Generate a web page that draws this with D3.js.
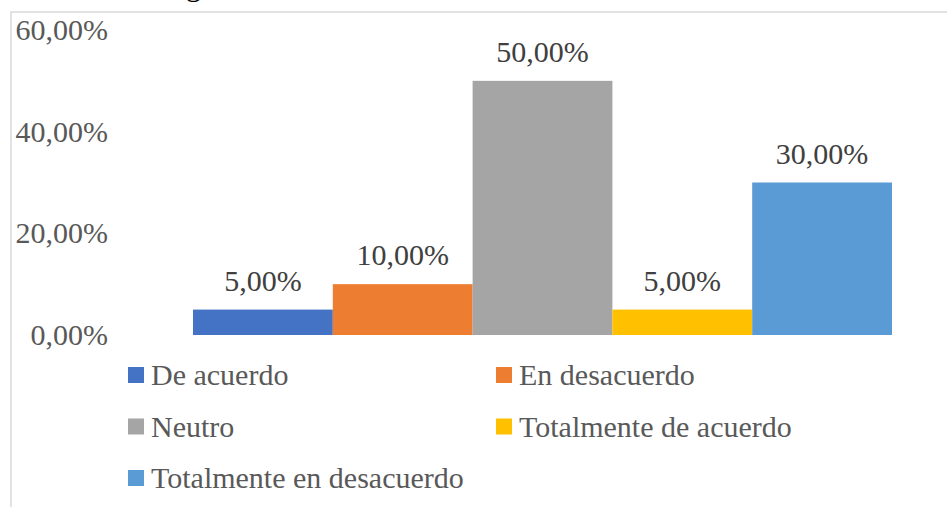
<!DOCTYPE html>
<html>
<head>
<meta charset="utf-8">
<script src="https://cdn.jsdelivr.net/npm/d3@7"></script>
<style>
  body { margin: 0; background: #fff; }
  svg { display: block; }
</style>
</head>
<body>
<div id="chart"></div>
<script>
var series = ["De acuerdo", "En desacuerdo", "Neutro", "Totalmente de acuerdo", "Totalmente en desacuerdo"];
var values = [0.05, 0.10, 0.50, 0.05, 0.30];
var colors = ["#4472C4", "#ED7D31", "#A5A5A5", "#FFC000", "#5B9BD5"];
var yTicks = [0, 0.2, 0.4, 0.6];

var width = 947,
    height = 507;

var svg = d3.select("#chart").append("svg")
  .attr("width", width)
  .attr("height", height)
  .style("font-family", "'Liberation Serif', 'Times New Roman', serif");

// frame of the chart (only top and left edges show)
svg.append("path")
  .attr("d", "M11,507V12H947")
  .attr("fill", "none")
  .attr("stroke", "#d9d9d9")
  .attr("stroke-width", 1.5);

// descender of the caption cut off above
svg.append("text")
  .attr("x", 186)
  .attr("y", -4)
  .attr("font-size", 30)
  .attr("fill", "#000")
  .text("g");

var locale = d3.formatLocale({decimal: ",", thousands: ".", grouping: [3], currency: ["", "€"]});
var pct = locale.format(".2%");

var x = d3.scaleBand()
  .domain(series)
  .range([193, 892])
  .padding(0);

var y = d3.scaleLinear()
  .domain([0, 0.6])
  .range([335, 30]);

var z = d3.scaleOrdinal()
  .domain(series)
  .range(colors);

var data = series.map(function(d, i) { return {key: d, value: values[i]}; });

svg.append("g")
  .selectAll("rect")
  .data(data)
  .enter().append("rect")
    .attr("x", function(d) { return x(d.key); })
    .attr("y", function(d) { return y(d.value); })
    .attr("width", x.bandwidth())
    .attr("height", function(d) { return y(0) - y(d.value); })
    .attr("fill", function(d) { return z(d.key); });

svg.append("g")
  .selectAll("text")
  .data(data)
  .enter().append("text")
    .attr("x", function(d) { return x(d.key) + x.bandwidth() / 2; })
    .attr("y", function(d) { return y(d.value) - 19; })
    .attr("text-anchor", "middle")
    .attr("font-size", 30)
    .attr("fill", "#404040")
    .text(function(d) { return pct(d.value); });

var yAxis = svg.append("g")
  .attr("transform", "translate(111,0)")
  .call(d3.axisLeft(y).tickValues(yTicks).tickFormat(pct).tickSize(0).tickPadding(3));

yAxis.select(".domain").remove();
yAxis.selectAll("text")
  .attr("font-family", "'Liberation Serif', 'Times New Roman', serif")
  .attr("font-size", 30)
  .attr("fill", "#595959");

var legend = svg.append("g")
  .attr("font-size", 30)
  .attr("fill", "#595959")
  .selectAll("g")
  .data(series)
  .enter().append("g")
    .attr("transform", function(d, i) {
      return "translate(" + (i % 2 ? 496 : 128) + "," + (385 + Math.floor(i / 2) * 51.5) + ")";
    });

legend.append("rect")
  .attr("y", -18)
  .attr("width", 16)
  .attr("height", 16)
  .attr("fill", z);

legend.append("text")
  .attr("x", 23)
  .text(function(d) { return d; });
</script>
</body>
</html>
